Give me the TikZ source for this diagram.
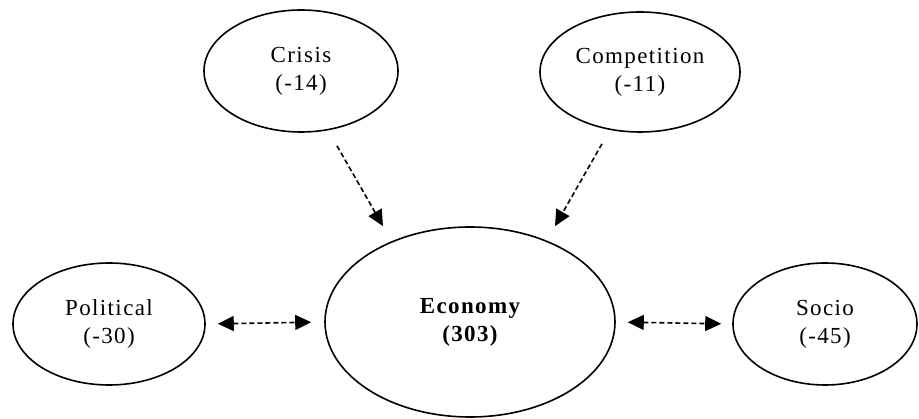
\documentclass[tikz,border=0pt]{standalone}
\usepackage{fontspec}
\setmainfont{Liberation Serif}
\newfontfamily\lblfont[LetterSpace=6]{Liberation Serif}
\usetikzlibrary{shapes.geometric,arrows.meta}
\begin{document}
\begin{tikzpicture}[x=1pt,y=-1pt,
  factor/.style={ellipse,draw,line width=1.6pt,inner sep=0pt,align=center,
    font=\lblfont\fontsize{23}{28}\selectfont,
    execute at begin node={\rule{0pt}{26pt}}},
  link/.style={line width=1.6pt,dash pattern=on 5pt off 3pt,
    -{Triangle[length=16pt,width=15pt]}},
  twoway/.style={link,{Triangle[length=16pt,width=15pt]}-{Triangle[length=16pt,width=15pt]}}]
\useasboundingbox (0,0) rectangle (919,419);
% factors around the central node
\node[factor,minimum width=194pt,minimum height=122pt] (crisis) at (301,71) {Crisis\\(-14)};
\node[factor,minimum width=200pt,minimum height=120pt] (comp) at (640,72) {Competition\\(-11)};
\node[factor,minimum width=290pt,minimum height=190pt] (econ) at (470,322) {\bfseries Economy\\\bfseries (303)};
\node[factor,minimum width=192pt,minimum height=122pt] (pol) at (109,324) {Political\\(-30)};
\node[factor,minimum width=184pt,minimum height=122pt] (socio) at (825,324) {Socio\\(-45)};
% influences
\draw[link] ([xshift=36pt,yshift=-13pt]crisis.south) -- ([xshift=-87pt]econ.north);
\draw[link] ([xshift=-38pt,yshift=-11pt]comp.south) -- ([xshift=85pt]econ.north);
\draw[twoway,shorten <=12pt,shorten >=13pt] (pol.east) -- (econ.west);
\draw[twoway,shorten <=12pt,shorten >=11pt] (econ.east) -- (socio.west);
\end{tikzpicture}
\end{document}
